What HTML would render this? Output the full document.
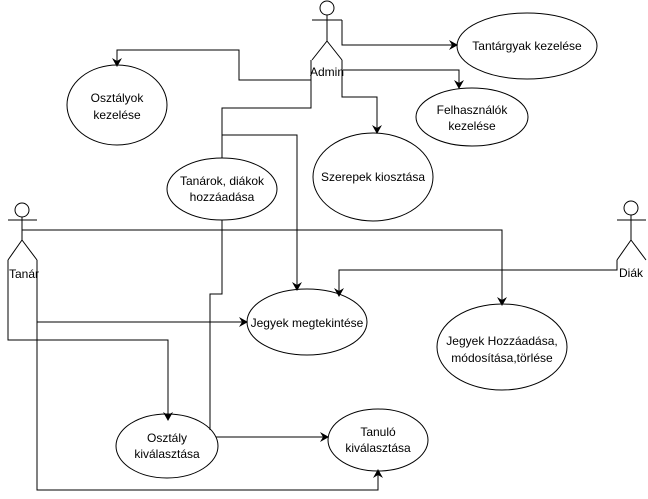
<!DOCTYPE html>
<html><head><meta charset="utf-8"><style>body{margin:0;background:#fff}svg{display:block}text{font-family:"Liberation Sans",sans-serif;font-size:12px;fill:#000;text-anchor:middle}</style></head><body>
<svg width="648" height="499" viewBox="0 0 648 499">
<defs><marker id="a" markerWidth="10" markerHeight="10" refX="8" refY="5" orient="auto" markerUnits="userSpaceOnUse"><path d="M0,0 L9,5 L0,10 L3,5 Z" fill="#000"/></marker></defs>
<g fill="none" stroke="#000" stroke-width="1">
<!-- actors -->
<circle cx="327" cy="8" r="7" fill="#fff"/><path d="M327 15V41M312 20H342M327 41L312 60M327 41L342 60"/>
<circle cx="22" cy="210" r="7" fill="#fff"/><path d="M22 217V240M8 220H37M22 240L8 260M22 240L37 260"/>
<circle cx="631" cy="208" r="7" fill="#fff"/><path d="M631 215V240M617 220H646M631 240L617 260M631 240L646 260"/>
<!-- ellipses -->
<ellipse cx="527" cy="46" rx="70" ry="33"/>
<ellipse cx="117" cy="105" rx="50" ry="40"/>
<ellipse cx="472" cy="117" rx="56" ry="29"/>
<ellipse cx="373" cy="177" rx="60" ry="44"/>
<ellipse cx="222" cy="189" rx="55" ry="31"/>
<ellipse cx="307" cy="322" rx="60" ry="33"/>
<ellipse cx="502" cy="347" rx="65" ry="43"/>
<ellipse cx="167" cy="446" rx="51" ry="32"/>
<ellipse cx="378" cy="440" rx="50" ry="31"/>
<!-- connectors -->
<path d="M342 20V45H457" marker-end="url(#a)"/>
<path d="M343 70H459V88" marker-end="url(#a)"/>
<path d="M342 60V97H377V133" marker-end="url(#a)"/>
<path d="M311 60V80H239V50H117V66" marker-end="url(#a)"/>
<path d="M311 80V108H222V158"/>
<path d="M222 135H297V290" marker-end="url(#a)"/>
<path d="M22 230H502V305" marker-end="url(#a)"/>
<path d="M617 260V270H339V296" marker-end="url(#a)"/>
<path d="M37 322H247" marker-end="url(#a)"/>
<path d="M8 260V340H168V420" marker-end="url(#a)"/>
<path d="M37 260V490H378V470" marker-end="url(#a)"/>
<path d="M216 437H328" marker-end="url(#a)"/>
<path d="M210 430V294H222V220"/>
</g>
<text x="327" y="76">Admin</text>
<text x="24" y="278">Tanár</text>
<text x="631" y="277">Diák</text>
<text x="527" y="50">Tantárgyak kezelése</text>
<text x="117" y="102">Osztályok</text><text x="117" y="119">kezelése</text>
<text x="472" y="114">Felhasználók</text><text x="472" y="130">kezelése</text>
<text x="373" y="181">Szerepek kiosztása</text>
<text x="222" y="185">Tanárok, diákok</text><text x="222" y="201">hozzáadása</text>
<text x="307" y="327">Jegyek megtekintése</text>
<text x="502" y="345">Jegyek Hozzáadása,</text><text x="502" y="362">módosítása,törlése</text>
<text x="167" y="442">Osztály</text><text x="167" y="458">kiválasztása</text>
<text x="378" y="436">Tanuló</text><text x="378" y="452">kiválasztása</text>
</svg>
</body></html>
